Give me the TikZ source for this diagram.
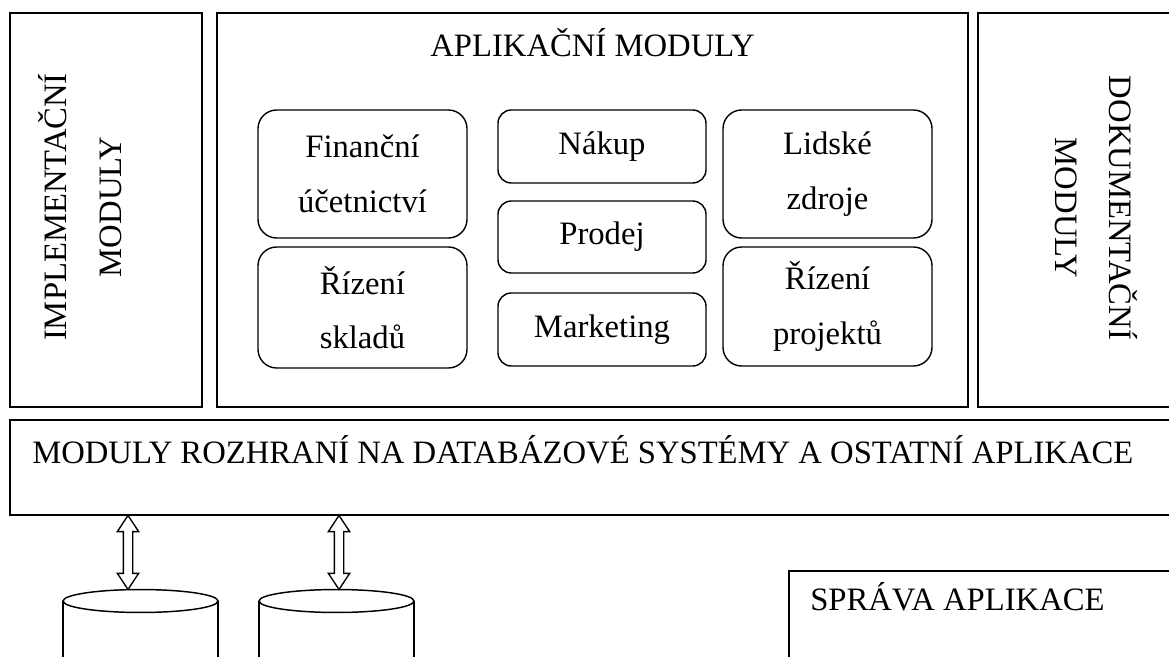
\documentclass[tikz,border=0pt]{standalone}
\usepackage{fontspec}
\setmainfont{Liberation Serif}
\usetikzlibrary{shapes.arrows,calc}
\begin{document}
\begin{tikzpicture}[x=0.75pt,y=-0.75pt,
  frame/.style={draw,line width=1.4pt,inner sep=0pt},
  modbig/.style={draw,line width=1.05pt,rounded corners=14pt,inner sep=0pt,align=center,font=\fontsize{24.5}{41}\selectfont},
  modsmall/.style={modbig,rounded corners=10pt},
  lbl/.style={inner sep=0pt,align=center,font=\fontsize{24.5}{41}\selectfont},
  dbl/.style={double arrow,draw,fill=white,line width=1pt,rotate=90,inner xsep=0pt,inner ysep=3pt,
    minimum height=55.5pt,double arrow head extend=4.5pt,double arrow tip angle=67},
  dbline/.style={line width=1.1pt}]
\useasboundingbox (0,0) rectangle (1169,656);
\clip (0,0) rectangle (1169,656);
% frames
\node[frame,minimum width=144pt,minimum height=295.5pt] (impl) at (106,210) {};
\node[frame,minimum width=563.25pt,minimum height=295.5pt] (apl) at (592.5,210) {};
\node[frame,minimum width=151.5pt,minimum height=295.5pt] (dok) at (1079,210) {};
\node[frame,minimum width=877.5pt,minimum height=71.25pt] (bar) at (595,467.5) {};
\node[frame,minimum width=293.25pt,minimum height=74.25pt] (sprava) at (984.5,620.5) {};
% frame labels
\node[lbl,rotate=90] (impltxt) at (80,207) {IMPLEMENTAČNÍ\\MODULY};
\node[lbl,rotate=-90] (doktxt) at (1096.5,208) {DOKUMENTAČNÍ\\MODULY};
\node[lbl,anchor=base] (apltxt) at (592.5,57) {APLIKAČNÍ MODULY};
\node[lbl,anchor=base west] (bartxt) at (32,463) {MODULY ROZHRANÍ NA DATABÁZOVÉ SYSTÉMY A OSTATNÍ APLIKACE};
\node[lbl,anchor=base west] (spravatxt) at (810,610) {SPRÁVA APLIKACE};
% application modules
\node[modbig,minimum width=156.75pt,minimum height=96pt] (fin) at (362.5,174) {Finanční\\účetnictví};
\node[modbig,minimum width=156.75pt,minimum height=90.75pt] (skl) at (362.5,307.5) {Řízení\\skladů};
\node[modsmall,minimum width=156pt,minimum height=54.75pt] (nak) at (602,146.5) {Nákup};
\node[modsmall,minimum width=156pt,minimum height=54pt] (pro) at (602,237) {Prodej};
\node[modsmall,minimum width=156pt,minimum height=54.75pt] (mar) at (602,329.5) {Marketing};
\node[modbig,minimum width=156.75pt,minimum height=96pt] (lid) at (827.5,174) {Lidské\\zdroje};
\node[modbig,minimum width=156.75pt,minimum height=89.25pt] (prj) at (827.5,306.5) {Řízení\\projektů};
% databases
\coordinate (db1) at (140.5,601);
\coordinate (db2) at (336.5,601);
\foreach \d in {db1,db2}{
  \draw[dbline] (\d) ellipse [x radius=58.1pt,y radius=8.6pt];
  \draw[dbline] ($(\d)+(-77.5,0)$) -- ++(0,70);
  \draw[dbline] ($(\d)+(77.5,0)$) -- ++(0,70);
}
\coordinate (t1) at (128,589);
\coordinate (t2) at (339,589);
\node[dbl] (a1) at ($(bar.south -| t1)!0.5!(t1)$) {};
\node[dbl] (a2) at ($(bar.south -| t2)!0.5!(t2)$) {};
\end{tikzpicture}
\end{document}
